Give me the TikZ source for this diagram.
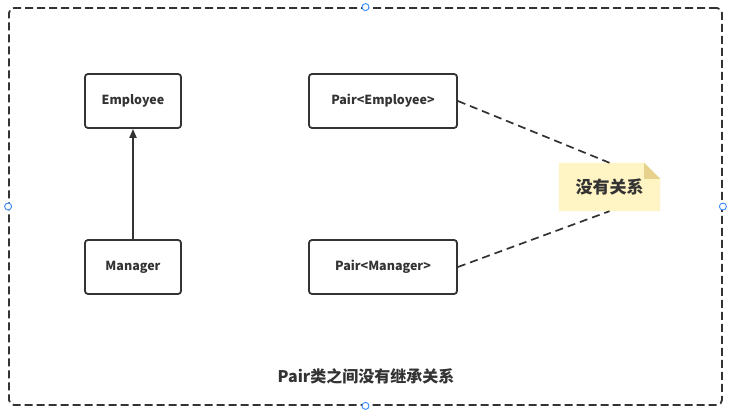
\documentclass[tikz,border=0pt]{standalone}
\usepackage{fontspec}
\setmainfont{Noto Sans CJK SC}
\usetikzlibrary{arrows.meta}
\definecolor{ink}{HTML}{333333}
\definecolor{noteY}{HTML}{FFF4C3}
\definecolor{noteF}{HTML}{E6D28C}
\definecolor{handle}{HTML}{3388FF}
\tikzset{
  cls/.style={draw=ink, line width=1.8pt, rounded corners=3pt, fill=white,
    minimum width=96pt, minimum height=54pt, inner sep=0pt,
    font=\fontsize{12.5}{14}\selectfont\bfseries, text=ink},
  pcls/.style={cls, minimum width=148pt},
  dashlink/.style={draw=ink, line width=1.7pt, dash pattern=on 8pt off 5pt},
  hnd/.style={circle, draw=handle, fill=white, line width=0.9pt, minimum size=7pt, inner sep=0pt}
}
\begin{document}
\begin{tikzpicture}[x=1pt,y=-1pt]
\useasboundingbox (0,0) rectangle (730,411);
\fill[white] (0,0) rectangle (730,411);
% frame
\node[draw=ink, line width=1.8pt, dash pattern=on 8pt off 4pt, rounded corners=5pt,
  minimum width=713pt, minimum height=397pt, inner sep=0pt] (frame) at (365.5,206.5) {};
% classes
\node[cls] (emp) at (133,101) {Employee};
\node[cls] (mgr) at (133,267) {Manager};
\node[pcls] (pemp) at (383,101) {Pair<Employee>};
\node[pcls] (pmgr) at (383,267) {Pair<Manager>};
% inheritance arrow
\draw[ink, line width=1.8pt, -{Triangle[length=9pt,width=7pt]}] (mgr.north) -- (emp.south);
% note
\node[minimum width=101pt, minimum height=48pt, inner sep=0pt] (note) at (609.5,187) {};
\fill[noteY] (note.north west) -- ([xshift=-16pt]note.north east) -- ([yshift=-16pt]note.north east)
  -- (note.south east) -- (note.south west) -- cycle;
\fill[noteF] ([xshift=-16pt]note.north east) -- ([yshift=-16pt]note.north east)
  -- ([xshift=-16pt,yshift=-16pt]note.north east) -- cycle;
\node[font=\fontsize{17}{19}\selectfont\bfseries, text=ink] (notetext) at (note.center) {没有关系};
% dashed links
\draw[dashlink] (pemp.east) -- (note.north);
\draw[dashlink] (pmgr.east) -- (note.south);
% caption
\node[font=\fontsize{16}{18}\selectfont\bfseries, text=ink] (cap) at (366,376) {Pair类之间没有继承关系};
% selection handles
\node[hnd] (h1) at (frame.north) {};
\node[hnd] (h2) at (frame.south) {};
\node[hnd] (h3) at (frame.west) {};
\node[hnd] (h4) at (frame.east) {};
\end{tikzpicture}
\end{document}
